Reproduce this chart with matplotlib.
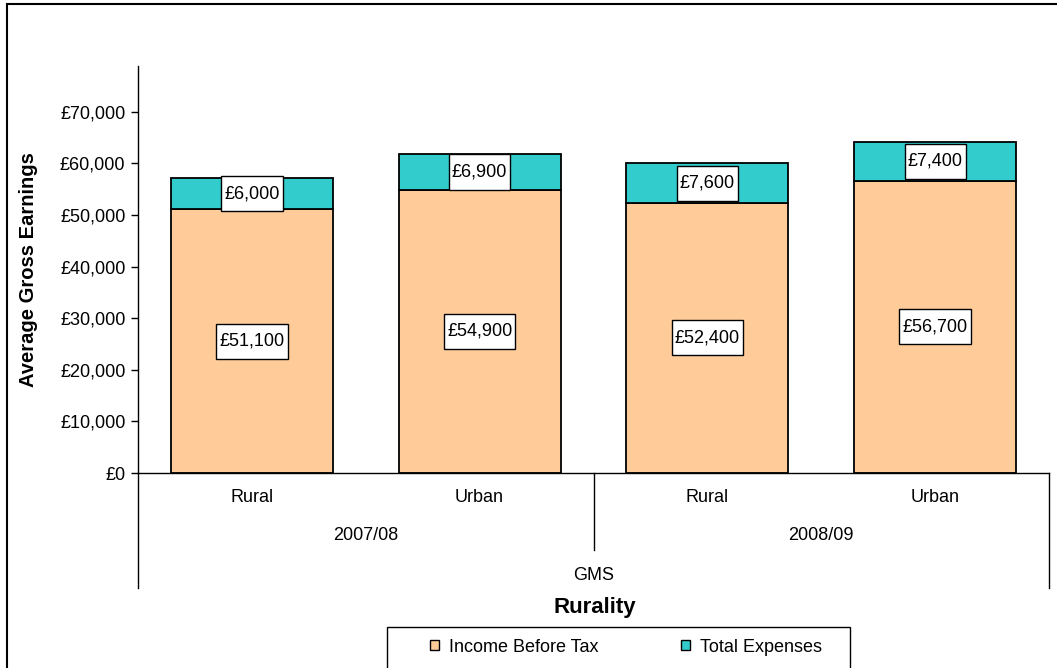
import numpy as np
import matplotlib.pyplot as plt
from matplotlib.patches import Rectangle, Patch
from matplotlib.lines import Line2D
from matplotlib.path import Path

plt.rcParams['font.family'] = ['Liberation Sans', 'DejaVu Sans']

# Daten
kategorien = ["Rural", "Urban", "Rural", "Urban"]
jahre = ["2007/08", "2008/09"]
einkommen = [51100, 54900, 52400, 56700]
ausgaben = [6000, 6900, 7600, 7400]

W, H = 1057, 668
fig = plt.figure(figsize=(W/100, H/100), dpi=100)

# Achse in Pixeln platzieren
links, rechts, oben, unten = 138, 1049, 66, 473
ax = fig.add_axes([links/W, (H-unten)/H, (rechts-links)/W, (unten-oben)/H])

def py(p):
    # Pixel-y -> Achsenbruchteil
    return (unten - p)/(unten - oben)

# Kasten: schmal links/rechts, hoch oben/unten
def kasten(x0, y0, width, height, mutation_size):
    dx = 0.17*mutation_size
    dy = 0.5*mutation_size
    x0, y0 = x0 - dx, y0 - dy
    x1, y1 = x0 + width + 2*dx, y0 + height + 2*dy
    return Path([(x0, y0), (x1, y0), (x1, y1), (x0, y1), (x0, y0)], closed=True)

x = np.arange(len(kategorien))
b = 0.711
ax.bar(x, einkommen, b, color="#FFCC99", edgecolor="black", linewidth=1.3, label="Income Before Tax")
ax.bar(x, ausgaben, b, bottom=einkommen, color="#33CCCC", edgecolor="black", linewidth=1.3, label="Total Expenses")

box = dict(boxstyle=kasten, facecolor="white", edgecolor="black", linewidth=1)
for i in range(len(x)):
    ax.text(x[i], einkommen[i]/2, "£{:,}".format(einkommen[i]), ha="center", va="center", fontsize=13, bbox=box)
    ax.text(x[i], einkommen[i] + ausgaben[i]/2, "£{:,}".format(ausgaben[i]), ha="center", va="center", fontsize=13, bbox=box)

ax.set_xlim(-0.5, 3.5)
ax.set_ylim(0, 78900)
ax.set_yticks(np.arange(0, 70001, 10000))
ax.set_yticklabels(["£{:,}".format(v) for v in range(0, 70001, 10000)], fontsize=13)
ax.tick_params(axis="y", direction="out", length=5, width=1, pad=4)
ax.set_xticks([])
for s in ["top", "right"]:
    ax.spines[s].set_visible(False)
ax.spines["left"].set_linewidth(1)
ax.spines["bottom"].set_linewidth(1)
ax.set_ylabel("Average Gross Earnings", fontsize=14.5, fontweight="bold", labelpad=16)

# Kategorie-Beschriftungen unter der Achse
tr = ax.get_xaxis_transform()
for i, k in enumerate(kategorien):
    ax.text(x[i], py(498), k, transform=tr, ha="center", va="center", fontsize=13)
for j, jahr in enumerate(jahre):
    ax.text(2*j + 0.5, py(535), jahr, transform=tr, ha="center", va="center", fontsize=13)
ax.text(1.5, py(575), "GMS", transform=tr, ha="center", va="center", fontsize=13)

ax.add_line(Line2D([-0.5, -0.5], [0, py(588)], transform=tr, color="black", lw=1, clip_on=False))
ax.add_line(Line2D([3.5, 3.5], [0, py(588)], transform=tr, color="black", lw=1, clip_on=False))
ax.add_line(Line2D([1.5, 1.5], [0, py(550)], transform=tr, color="black", lw=1, clip_on=False))

fig.text(595/W, 1 - 608/H, "Rurality", ha="center", va="center", fontsize=16, fontweight="bold")

# Legende
fig.patches.append(Rectangle((387/W, -0.02), (850-387)/W, (H-627)/H + 0.02, transform=fig.transFigure,
                             facecolor="none", edgecolor="black", linewidth=1))
griffe = [Patch(facecolor="#FFCC99", edgecolor="black"), Patch(facecolor="#33CCCC", edgecolor="black")]
fig.legend(griffe, ["Income Before Tax", "Total Expenses"], loc="center", bbox_to_anchor=(626/W, 1 - 647/H),
           ncol=2, frameon=False, fontsize=13, handlelength=0.5, handleheight=0.5, handletextpad=0.55,
           columnspacing=4.6)

# Rahmen
fig.patches.append(Rectangle((7/W, -0.02), 1.02, 1 - 4/H + 0.02, transform=fig.transFigure,
                             facecolor="none", edgecolor="black", linewidth=1.5))

fig.savefig("out.png", dpi=100)
